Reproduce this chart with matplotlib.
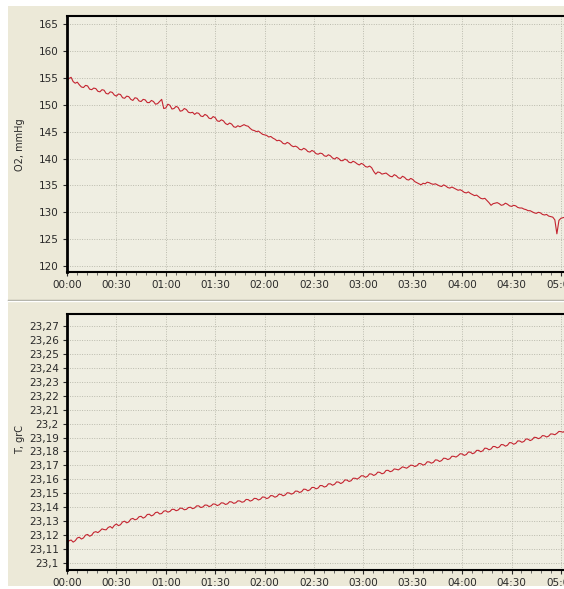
import numpy as np
import matplotlib
matplotlib.use('Agg')
import matplotlib.pyplot as plt
from matplotlib.ticker import MultipleLocator, FixedLocator, FuncFormatter
from matplotlib.patches import Rectangle
from matplotlib.lines import Line2D

# Logged time span, minutes (samples are evenly spaced)
span_min = 302.5

# Oxygen partial pressure, mmHg
o2_mmhg = [
    154.4, 154.9, 155.1, 154.3, 154.0, 154.2, 153.7, 153.3, 153.2, 153.6,
    153.5, 152.9, 152.8, 153.1, 153.0, 152.5, 152.4, 152.8, 152.7, 152.1,
    152.0, 152.4, 152.3, 151.8, 151.6, 152.0, 151.9, 151.3, 151.2, 151.6,
    151.5, 151.0, 150.8, 151.3, 151.2, 150.7, 150.6, 151.0, 150.9, 150.4,
    150.4, 150.8, 150.6, 150.1, 150.2, 150.6, 151.0, 149.3, 149.4, 150.1,
    149.9, 149.2, 149.3, 149.7, 149.5, 148.8, 148.9, 149.3, 149.1, 148.6,
    148.5, 148.6, 148.2, 148.5, 148.4, 147.9, 147.8, 148.2, 148.0, 147.5,
    147.4, 147.8, 147.6, 147.0, 146.9, 147.2, 147.0, 146.5, 146.3, 146.6,
    146.4, 145.9, 145.8, 146.1, 145.9, 146.1, 146.3, 146.1, 146.0, 145.6,
    145.3, 145.2, 145.0, 145.1, 144.8, 144.5, 144.4, 144.3, 144.0, 144.1,
    143.8, 143.6, 143.3, 143.4, 143.2, 142.8, 142.7, 143.0, 142.8, 142.4,
    142.2, 142.3, 142.1, 141.7, 141.6, 141.9, 141.7, 141.3, 141.2, 141.5,
    141.3, 140.9, 140.8, 141.0, 140.9, 140.5, 140.4, 140.7, 140.5, 140.1,
    139.9, 140.2, 140.0, 139.6, 139.6, 139.9, 139.7, 139.3, 139.2, 139.5,
    139.3, 139.0, 138.8, 139.1, 138.9, 138.5, 138.4, 138.6, 138.3, 137.6,
    137.1, 137.5, 137.4, 137.1, 137.2, 137.3, 137.0, 136.7, 136.6, 137.0,
    136.8, 136.4, 136.3, 136.7, 136.5, 136.1, 136.0, 136.3, 136.1, 135.7,
    135.5, 135.3, 135.1, 135.4, 135.3, 135.6, 135.5, 135.3, 135.2, 135.3,
    135.1, 134.9, 134.8, 135.1, 134.9, 134.6, 134.5, 134.7, 134.5, 134.3,
    134.1, 134.2, 134.0, 133.7, 133.6, 133.8, 133.5, 133.3, 133.1, 133.2,
    132.9, 132.6, 132.5, 132.6, 132.2, 131.8, 131.3, 131.6, 131.7, 131.8,
    131.6, 131.3, 131.4, 131.7, 131.5, 131.2, 131.1, 131.3, 131.2, 130.9,
    130.8, 130.8, 130.6, 130.5, 130.3, 130.3, 130.1, 129.9, 129.8, 130.0,
    129.9, 129.6, 129.5, 129.6, 129.3, 129.2, 129.1, 128.6, 126.0, 128.5,
    128.9, 129.0, 129.1,
]

# Temperature, grC
temp_c = [
    23.1140, 23.1160, 23.1165, 23.1150, 23.1160, 23.1180, 23.1185, 23.1172,
    23.1180, 23.1200, 23.1205, 23.1192, 23.1200, 23.1220, 23.1225, 23.1218,
    23.1230, 23.1245, 23.1240, 23.1238, 23.1255, 23.1262, 23.1250, 23.1270,
    23.1280, 23.1268, 23.1275, 23.1295, 23.1300, 23.1288, 23.1295, 23.1315,
    23.1320, 23.1310, 23.1315, 23.1332, 23.1335, 23.1322, 23.1330, 23.1348,
    23.1350, 23.1338, 23.1345, 23.1362, 23.1365, 23.1352, 23.1355, 23.1372,
    23.1375, 23.1365, 23.1370, 23.1385, 23.1385, 23.1375, 23.1380, 23.1394,
    23.1392, 23.1382, 23.1385, 23.1398, 23.1400, 23.1390, 23.1395, 23.1410,
    23.1410, 23.1398, 23.1402, 23.1416, 23.1415, 23.1405, 23.1410, 23.1424,
    23.1422, 23.1412, 23.1418, 23.1432, 23.1430, 23.1420, 23.1425, 23.1440,
    23.1438, 23.1428, 23.1432, 23.1446, 23.1445, 23.1436, 23.1440, 23.1456,
    23.1455, 23.1444, 23.1450, 23.1464, 23.1462, 23.1452, 23.1458, 23.1474,
    23.1472, 23.1462, 23.1468, 23.1484, 23.1482, 23.1472, 23.1478, 23.1494,
    23.1492, 23.1482, 23.1488, 23.1504, 23.1502, 23.1494, 23.1500, 23.1516,
    23.1515, 23.1506, 23.1512, 23.1530, 23.1528, 23.1518, 23.1525, 23.1542,
    23.1542, 23.1532, 23.1538, 23.1556, 23.1555, 23.1545, 23.1550, 23.1568,
    23.1568, 23.1558, 23.1565, 23.1582, 23.1580, 23.1570, 23.1578, 23.1596,
    23.1595, 23.1585, 23.1590, 23.1608, 23.1608, 23.1602, 23.1612, 23.1626,
    23.1625, 23.1615, 23.1622, 23.1640, 23.1638, 23.1628, 23.1635, 23.1652,
    23.1650, 23.1640, 23.1645, 23.1664, 23.1665, 23.1655, 23.1660, 23.1675,
    23.1672, 23.1668, 23.1678, 23.1690, 23.1685, 23.1680, 23.1690, 23.1702,
    23.1700, 23.1692, 23.1698, 23.1714, 23.1712, 23.1702, 23.1708, 23.1726,
    23.1725, 23.1716, 23.1722, 23.1740, 23.1738, 23.1728, 23.1735, 23.1752,
    23.1750, 23.1742, 23.1748, 23.1766, 23.1765, 23.1760, 23.1770, 23.1784,
    23.1782, 23.1772, 23.1778, 23.1796, 23.1795, 23.1784, 23.1790, 23.1808,
    23.1808, 23.1798, 23.1805, 23.1824, 23.1822, 23.1812, 23.1818, 23.1836,
    23.1835, 23.1826, 23.1832, 23.1850, 23.1848, 23.1838, 23.1845, 23.1864,
    23.1862, 23.1852, 23.1858, 23.1876, 23.1875, 23.1866, 23.1872, 23.1890,
    23.1888, 23.1878, 23.1885, 23.1902, 23.1900, 23.1892, 23.1898, 23.1914,
    23.1912, 23.1904, 23.1910, 23.1926, 23.1925, 23.1920, 23.1930, 23.1944,
    23.1942, 23.1938, 23.1948,
]

time_ticks = [0, 30, 60, 90, 120, 150, 180, 210, 240, 270, 300]
time_labels = ['00:00', '00:30', '01:00', '01:30', '02:00', '02:30',
               '03:00', '03:30', '04:00', '04:30', '05:00']
o2_ticks = [120, 125, 130, 135, 140, 145, 150, 155, 160, 165]
temp_ticks = [23.10, 23.11, 23.12, 23.13, 23.14, 23.15, 23.16, 23.17, 23.18,
              23.19, 23.20, 23.21, 23.22, 23.23, 23.24, 23.25, 23.26, 23.27]

t_o2 = np.linspace(0, span_min, len(o2_mmhg))
t_temp = np.linspace(0, span_min, len(temp_c))

plt.rcParams['font.family'] = ['DejaVu Sans']

W, H = 564, 589
fig = plt.figure(figsize=(W / 100, H / 100), dpi=100, facecolor='white')

panel_bg = '#ECE9D8'
plot_bg = '#EFEEE2'
line_col = '#C42430'
grid_col = '#BBBBAE'
text_col = '#2A2A2A'

# window background and etched separator between the two charts
fig.patches.append(Rectangle((8 / W, 1 - 586 / H), 1, (586 - 6) / H,
                             transform=fig.transFigure, facecolor=panel_bg,
                             edgecolor='none', zorder=-10))
fig.lines.append(Line2D([8 / W, 1], [1 - 300 / H] * 2, transform=fig.transFigure,
                        color='#A5A59A', lw=1.0))
fig.lines.append(Line2D([8 / W, 1], [1 - 301 / H] * 2, transform=fig.transFigure,
                        color='white', lw=1.0))

left = 67 / W
width = 1 - left
x_right = 300 * (W - 67) / (561 - 67)


def style_axes(ax):
    ax.set_facecolor(plot_bg)
    ax.set_xlim(0, x_right)
    ax.xaxis.set_major_locator(FixedLocator(time_ticks))
    ax.set_xticklabels(time_labels)
    ax.xaxis.set_minor_locator(MultipleLocator(6))
    ax.spines['right'].set_visible(False)
    ax.spines['left'].set_linewidth(2.0)
    ax.spines['top'].set_linewidth(1.5)
    ax.spines['bottom'].set_linewidth(1.5)
    ax.tick_params(axis='both', which='major', length=3, width=0.8,
                   labelsize=7.5, colors=text_col, pad=3)
    ax.tick_params(axis='x', which='minor', length=2, width=0.6, colors='#555555')
    ax.tick_params(axis='x', which='major', pad=3)
    ax.grid(True, which='major', color=grid_col, linestyle=(0, (1, 1.5)), linewidth=0.7)
    ax.set_axisbelow(True)


# oxygen chart
ax1 = fig.add_axes([left, 1 - 272 / H, width, 256 / H])
ax1.plot(t_o2, o2_mmhg, color=line_col, lw=0.8)
ax1.set_ylim(118.9, 166.5)
ax1.yaxis.set_major_locator(FixedLocator(o2_ticks))
style_axes(ax1)
fig.text(20 / W, 1 - 145 / H, 'O2, mmHg', rotation=90, fontsize=7,
         ha='center', va='center', color=text_col)

# temperature chart
ax2 = fig.add_axes([left, 1 - 570 / H, width, 256 / H])
ax2.plot(t_temp, temp_c, color=line_col, lw=0.8)
ax2.set_ylim(23.095, 23.2786)
ax2.yaxis.set_major_locator(FixedLocator(temp_ticks))
ax2.yaxis.set_major_formatter(
    FuncFormatter(lambda v, pos: f'{v:.2f}'.rstrip('0').rstrip('.').replace('.', ',')))
style_axes(ax2)
fig.text(20 / W, 1 - 440 / H, 'T, grC', rotation=90, fontsize=7,
         ha='center', va='center', color=text_col)

fig.savefig('out.png', dpi=100, facecolor='white')
